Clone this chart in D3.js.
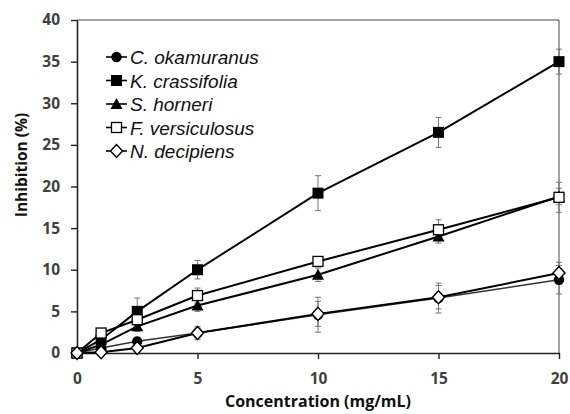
<!DOCTYPE html>
<html>
<head>
<meta charset="utf-8">
<script src="https://cdn.jsdelivr.net/npm/d3@7"></script>
<style>
body { margin: 0; background: #fff; }
svg text { font-family: "Open Sans", "DejaVu Sans", sans-serif; }
</style>
</head>
<body>
<svg id="chart" width="570" height="414"></svg>
<script>
// concentrations (mg/mL)
var conc = [0, 1, 2.5, 5, 10, 15, 20];
var seriesNames = ["C. okamuranus", "K. crassifolia", "S. horneri", "F. versiculosus", "N. decipiens"];
var okamuranus = [0, 0.6, 1.4, 2.4, 4.6, 6.6, 8.8];
var okamuranusErr = [0, 0.3, 0.5, 0.8, 2.1, 1.8, 1.7];
var crassifolia = [0, 1.6, 5.0, 10.0, 19.2, 26.5, 35.0];
var crassifoliaErr = [0, 0.4, 1.6, 1.1, 2.1, 1.8, 1.5];
var horneri = [0, 1.0, 3.2, 5.7, 9.4, 14.0, 18.8];
var horneriErr = [0, 0.3, 0.6, 0.7, 0.8, 0.8, 1.0];
var versiculosus = [0, 2.4, 4.0, 6.9, 11.0, 14.8, 18.7];
var versiculosusErr = [0, 0.3, 0.8, 0.9, 0.5, 1.2, 1.8];
var decipiens = [0, 0.1, 0.6, 2.4, 4.7, 6.7, 9.6];
var decipiensErr = [0, 0.1, 0.3, 0.6, 1.5, 1.4, 1.3];
var xTicks = [0, 5, 10, 15, 20];
var yTicks = [0, 5, 10, 15, 20, 25, 30, 35, 40];

var allValues = [okamuranus, crassifolia, horneri, versiculosus, decipiens];
var allErrors = [okamuranusErr, crassifoliaErr, horneriErr, versiculosusErr, decipiensErr];
var markerTypes = ["circle", "fsquare", "triangle", "osquare", "diamond"];

var svg = d3.select("#chart");
var margin = {top: 20, right: 11, bottom: 61, left: 77};
var width = 570 - margin.left - margin.right,
    height = 414 - margin.top - margin.bottom;

var x = d3.scaleLinear().domain([0, 20]).range([0, width]);
var y = d3.scaleLinear().domain([0, 40]).range([height, 0]);

var g = svg.append("g").attr("transform", "translate(" + margin.left + "," + margin.top + ")");

// frame top & right
g.append("line").attr("x1", 0).attr("x2", width).attr("y1", 0).attr("y2", 0)
    .attr("stroke", "#444").attr("stroke-width", 1);
g.append("line").attr("x1", width).attr("x2", width).attr("y1", 0).attr("y2", height)
    .attr("stroke", "#444").attr("stroke-width", 1);

var xAxis = d3.axisBottom(x).tickValues(xTicks).tickSize(6).tickSizeOuter(0).tickPadding(14);
var yAxis = d3.axisLeft(y).tickValues(yTicks).tickSize(6).tickSizeOuter(0).tickPadding(11);

var gx = g.append("g").attr("transform", "translate(0," + height + ")").call(xAxis);
var gy = g.append("g").call(yAxis);
[gx, gy].forEach(function (ax) {
    ax.select(".domain").attr("stroke", "#222").attr("stroke-width", 1.6);
    ax.selectAll(".tick line").attr("stroke", "#222").attr("stroke-width", 1.4);
    ax.selectAll(".tick text").attr("fill", "#404040").style("font-size", "15.5px").style("font-weight", "bold");
});

// axis titles
svg.append("text").attr("x", margin.left + width / 2).attr("y", 407)
    .attr("text-anchor", "middle").style("font-size", "16px").style("font-weight", "bold")
    .attr("fill", "#111").text("Concentration (mg/mL)");
svg.append("text").attr("transform", "translate(27,165) rotate(-90)")
    .attr("text-anchor", "middle").style("font-size", "15.5px").style("font-weight", "bold")
    .attr("fill", "#111").text("Inhibition (%)");

function drawMarker(sel, type) {
    if (type == "circle") {
        sel.append("circle").attr("r", 5.2).attr("fill", "#000");
    } else if (type == "fsquare") {
        sel.append("rect").attr("x", -5.5).attr("y", -5.5).attr("width", 11).attr("height", 11).attr("fill", "#000");
    } else if (type == "triangle") {
        sel.append("path").attr("d", "M0,-6L6,5L-6,5Z").attr("fill", "#000");
    } else if (type == "osquare") {
        sel.append("rect").attr("x", -5).attr("y", -5).attr("width", 10).attr("height", 10)
            .attr("fill", "#fff").attr("stroke", "#000").attr("stroke-width", 1.3);
    } else if (type == "diamond") {
        sel.append("path").attr("d", "M0,-6.5L6,0L0,6.5L-6,0Z")
            .attr("fill", "#fff").attr("stroke", "#000").attr("stroke-width", 1.4);
    }
}

var line = d3.line()
    .x(function (d) { return x(d[0]); })
    .y(function (d) { return y(d[1]); });

// error bars
allValues.forEach(function (vals, s) {
    var errs = allErrors[s];
    conc.forEach(function (c, i) {
        if (errs[i] <= 0) return;
        var cx = x(c), y1 = y(vals[i] + errs[i]), y2 = y(vals[i] - errs[i]);
        g.append("line").attr("x1", cx).attr("x2", cx).attr("y1", y1).attr("y2", y2)
            .attr("stroke", "#777").attr("stroke-width", 1);
        [y1, y2].forEach(function (yy) {
            g.append("line").attr("x1", cx - 3).attr("x2", cx + 3).attr("y1", yy).attr("y2", yy)
                .attr("stroke", "#777").attr("stroke-width", 1);
        });
    });
});

// lines
allValues.forEach(function (vals, s) {
    var pts = conc.map(function (c, i) { return [c, vals[i]]; });
    g.append("path").datum(pts).attr("d", line).attr("fill", "none")
        .attr("stroke", s == 0 ? "#333" : "#000").attr("stroke-width", s == 0 ? 1.5 : 2);
});

// markers
allValues.forEach(function (vals, s) {
    conc.forEach(function (c, i) {
        var m = g.append("g").attr("transform", "translate(" + x(c) + "," + y(vals[i]) + ")");
        drawMarker(m, markerTypes[s]);
    });
});

// legend
var legend = svg.append("g").attr("transform", "translate(106,57)");
seriesNames.forEach(function (name, s) {
    var row = legend.append("g").attr("transform", "translate(0," + (s * 23.5) + ")");
    row.append("line").attr("x1", 0).attr("x2", 21).attr("y1", 0).attr("y2", 0)
        .attr("stroke", "#000").attr("stroke-width", 1.6);
    var m = row.append("g").attr("transform", "translate(10.5,0)");
    drawMarker(m, markerTypes[s]);
    row.append("text").attr("x", 24).attr("y", 7).text(name)
        .style("font-family", "'Liberation Sans', Arial, sans-serif")
        .style("font-style", "italic").style("font-size", "19px").attr("fill", "#111");
});
</script>
</body>
</html>
